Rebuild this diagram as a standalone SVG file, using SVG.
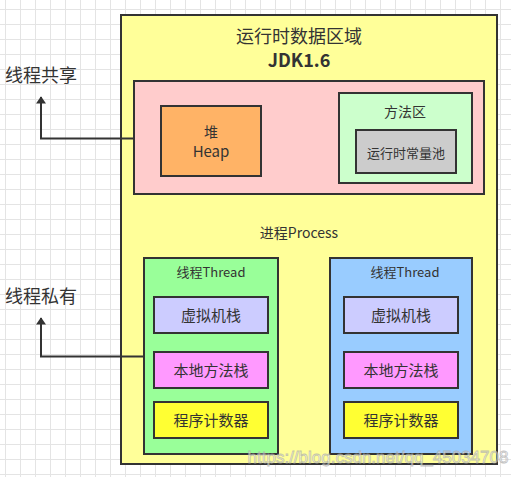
<svg xmlns="http://www.w3.org/2000/svg" width="511" height="477" viewBox="0 0 511 477">
<defs>
<pattern id="grid" x="5" y="9" width="15" height="15" patternUnits="userSpaceOnUse">
<path d="M0 0.5H15M0.5 0V15" fill="none" stroke="#e4e4e4" stroke-width="1"/>
</pattern>
<marker id="arr" viewBox="0 0 10 14" refX="9" refY="7" markerWidth="14" markerHeight="10" markerUnits="userSpaceOnUse" orient="auto">
<path d="M0 0L10 7L0 14Z" fill="#333"/>
</marker>
<style>
.box{stroke:#333;stroke-width:2}
text{font-family:"Noto Sans CJK SC","Liberation Sans",sans-serif;fill:#333;text-anchor:middle}
.edge{fill:none;stroke:#333;stroke-width:2}
</style>
</defs>
<rect width="511" height="477" fill="#fff"/>
<rect width="511" height="477" fill="url(#grid)"/>
<g id="runtime-data-area">
<rect class="box" x="121" y="15" width="376" height="449" fill="#ffff99"/>
<text x="299" y="43" font-size="18">运行时数据区域</text>
<text x="299" y="67" font-size="18" font-weight="bold">JDK1.6</text>
<text x="299" y="238" font-size="14">进程Process</text>
</g>
<g id="shared">
<rect class="box" x="134" y="81" width="350" height="113" fill="#ffcccc"/>
</g>
<g id="heap">
<rect class="box" x="161" y="106" width="100" height="70" fill="#ffb366"/>
<text x="211" y="137" font-size="14">堆</text>
<text x="211" y="157" font-size="15">Heap</text>
</g>
<g id="method-area">
<rect class="box" x="339" y="93" width="133" height="90" fill="#ccffcc"/>
<text x="405" y="117" font-size="14">方法区</text>
</g>
<g id="constant-pool">
<rect class="box" x="356" y="130" width="100" height="43" fill="#cccccc"/>
<text x="406" y="158" font-size="13">运行时常量池</text>
</g>
<g id="thread1">
<rect class="box" x="144" y="258" width="134" height="196" fill="#99ff99"/>
<text x="211" y="277" font-size="13">线程Thread</text>
</g>
<g id="thread1-vm-stack">
<rect class="box" x="154" y="297" width="114" height="36" fill="#ccccff"/>
<text x="211" y="321" font-size="15">虚拟机栈</text>
</g>
<g id="thread1-native-stack">
<rect class="box" x="154" y="352" width="114" height="36" fill="#ff99ff"/>
<text x="211" y="376" font-size="15">本地方法栈</text>
</g>
<g id="thread1-pc">
<rect class="box" x="154" y="402" width="114" height="36" fill="#ffff33"/>
<text x="211" y="426" font-size="15">程序计数器</text>
</g>
<g id="thread2">
<rect class="box" x="330" y="258" width="142" height="196" fill="#99ccff"/>
<text x="405" y="277" font-size="13">线程Thread</text>
</g>
<g id="thread2-vm-stack">
<rect class="box" x="344" y="297" width="114" height="36" fill="#ccccff"/>
<text x="401" y="321" font-size="15">虚拟机栈</text>
</g>
<g id="thread2-native-stack">
<rect class="box" x="344" y="352" width="114" height="36" fill="#ff99ff"/>
<text x="401" y="376" font-size="15">本地方法栈</text>
</g>
<g id="thread2-pc">
<rect class="box" x="344" y="402" width="114" height="36" fill="#ffff33"/>
<text x="401" y="426" font-size="15">程序计数器</text>
</g>
<g id="label-shared">
<text x="41" y="82" font-size="18">线程共享</text>
</g>
<g id="label-private">
<text x="41" y="303" font-size="18">线程私有</text>
</g>
<g id="connectors">
<path class="edge" d="M134 138.5H41V97" marker-end="url(#arr)"/>
<path class="edge" d="M144 356.5H41V318" marker-end="url(#arr)"/>
</g>
<text x="378" y="463" font-size="17" style="font-family:'Liberation Sans',sans-serif;fill:#fff;stroke:#aaa;stroke-width:0.8;opacity:0.7">https://blog.csdn.net/qq_45034708</text>
</svg>
